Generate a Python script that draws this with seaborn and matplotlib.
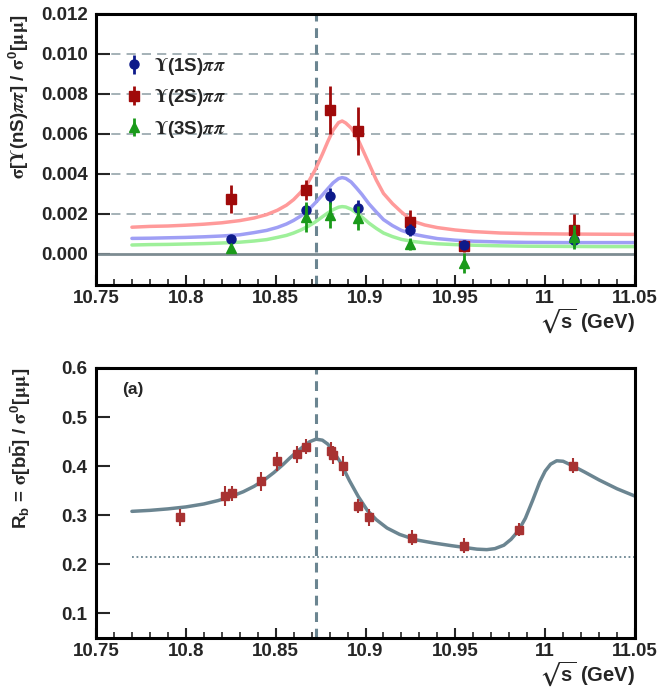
import numpy as np
import pandas as pd
import matplotlib
matplotlib.use("Agg")
import matplotlib.pyplot as plt
from matplotlib.ticker import MultipleLocator, FixedLocator
import seaborn as sns

# ---------------- data ----------------
# top panel: Upsilon(nS) pi pi cross sections
x_pts = [10.825, 10.867, 10.880, 10.896, 10.925, 10.955, 11.016]
y_1s = [0.00075, 0.00220, 0.00290, 0.00228, 0.00120, 0.00045, 0.00070]
e_1s = [0.00015, 0.00030, 0.00040, 0.00040, 0.00030, 0.00020, 0.00030]
y_2s = [0.00275, 0.00320, 0.00720, 0.00617, 0.00160, 0.00040, 0.00120]
e_2s = [0.00068, 0.00050, 0.00120, 0.00120, 0.00060, 0.00030, 0.00080]
y_3s = [0.00028, 0.00187, 0.00195, 0.00178, 0.00050, -0.00047, 0.00083]
e_3s = [0.00022, 0.00075, 0.00065, 0.00060, 0.00030, 0.00050, 0.00060]

# fit curves
x_fit = [10.770, 10.780, 10.790, 10.800, 10.810, 10.820, 10.830, 10.838, 10.845, 10.851,
         10.856, 10.860, 10.864, 10.868, 10.872, 10.876, 10.879, 10.882, 10.885, 10.887,
         10.889, 10.892, 10.895, 10.898, 10.902, 10.906, 10.910, 10.915, 10.920, 10.926,
         10.933, 10.940, 10.950, 10.960, 10.975, 10.990, 11.010, 11.030, 11.050]
fit_2s = [0.00134, 0.00138, 0.00140, 0.00144, 0.00149, 0.00156, 0.00167, 0.00180, 0.00197, 0.00219,
          0.00244, 0.00272, 0.00309, 0.00357, 0.00421, 0.00499, 0.00562, 0.00620, 0.00657, 0.00665,
          0.00655, 0.00630, 0.00590, 0.00530, 0.00450, 0.00370, 0.00303, 0.00252, 0.00210, 0.00165,
          0.00145, 0.00132, 0.00120, 0.00112, 0.00105, 0.00102, 0.00100, 0.00099, 0.00098]
fit_1s = [0.00078, 0.00079, 0.00081, 0.00083, 0.00086, 0.00090, 0.00096, 0.00107, 0.00118, 0.00133,
          0.00150, 0.00168, 0.00190, 0.00218, 0.00255, 0.00295, 0.00326, 0.00356, 0.00377, 0.00382,
          0.00378, 0.00360, 0.00330, 0.00298, 0.00250, 0.00210, 0.00172, 0.00142, 0.00118, 0.00100,
          0.00088, 0.00077, 0.00069, 0.00064, 0.00060, 0.00058, 0.00057, 0.00057, 0.00057]
fit_3s = [0.00045, 0.00047, 0.00048, 0.00050, 0.00052, 0.00055, 0.00059, 0.00065, 0.00072, 0.00083,
          0.00093, 0.00105, 0.00120, 0.00138, 0.00160, 0.00186, 0.00205, 0.00222, 0.00234, 0.00237,
          0.00235, 0.00224, 0.00205, 0.00185, 0.00154, 0.00128, 0.00105, 0.00087, 0.00073, 0.00063,
          0.00056, 0.00051, 0.00047, 0.00044, 0.00041, 0.00039, 0.00038, 0.00037, 0.00037]

# bottom panel: R_b
x_rb = [10.7968, 10.822, 10.8255, 10.842, 10.8506, 10.862, 10.867, 10.8806, 10.882,
        10.8873, 10.8956, 10.9021, 10.9257, 10.955, 10.9854, 11.0157]
y_rb = [0.2955, 0.339, 0.345, 0.369, 0.410, 0.424, 0.440, 0.431, 0.423,
        0.400, 0.319, 0.2955, 0.2545, 0.2378, 0.2708, 0.401]
e_rb = [0.017, 0.020, 0.015, 0.019, 0.019, 0.017, 0.016, 0.018, 0.018,
        0.021, 0.015, 0.017, 0.015, 0.015, 0.014, 0.015]

x_rbfit = [10.770, 10.780, 10.790, 10.800, 10.810, 10.818, 10.825, 10.832, 10.838, 10.844,
           10.849, 10.854, 10.858, 10.862, 10.866, 10.869, 10.8725, 10.876, 10.879, 10.882,
           10.886, 10.891, 10.896, 10.901, 10.906, 10.912, 10.919, 10.928, 10.938, 10.948,
           10.956, 10.962, 10.9675, 10.972, 10.977, 10.981, 10.985, 10.989, 10.993, 10.997,
           11.000, 11.003, 11.0064, 11.010, 11.0157, 11.022, 11.030, 11.040, 11.050]
y_rbfit = [0.308, 0.310, 0.313, 0.317, 0.323, 0.330, 0.338, 0.348, 0.359, 0.373,
           0.387, 0.403, 0.417, 0.430, 0.442, 0.450, 0.455, 0.453, 0.445, 0.431,
           0.408, 0.371, 0.338, 0.310, 0.291, 0.274, 0.261, 0.250, 0.2435, 0.238,
           0.234, 0.231, 0.230, 0.232, 0.239, 0.251, 0.268, 0.294, 0.330, 0.368,
           0.390, 0.404, 0.411, 0.410, 0.400, 0.388, 0.372, 0.354, 0.339]
rb_continuum = 0.215

x_ticks = [10.75, 10.8, 10.85, 10.9, 10.95, 11.0, 11.05]
x_ticklabels = ["10.75", "10.8", "10.85", "10.9", "10.95", "11", "11.05"]
y_ticks_top = [0.000, 0.002, 0.004, 0.006, 0.008, 0.010, 0.012]
y_ticklabels_top = ["0.000", "0.002", "0.004", "0.006", "0.008", "0.010", "0.012"]
y_ticks_bot = [0.1, 0.2, 0.3, 0.4, 0.5, 0.6]
y_ticklabels_bot = ["0.1", "0.2", "0.3", "0.4", "0.5", "0.6"]
peak_pos = 10.8725

# ---------------- style ----------------
sns.set_theme(style="white")
plt.rcParams.update({
    "font.family": ["Liberation Sans", "DejaVu Sans"],
    "font.weight": "bold",
    "axes.labelweight": "bold",
    "mathtext.fontset": "custom",
    "mathtext.rm": "STIXGeneral",
    "mathtext.it": "STIXGeneral:italic",
    "mathtext.bf": "Liberation Sans:bold",
    "mathtext.sf": "Liberation Sans:bold",
    "mathtext.fallback": "stix",
    "axes.linewidth": 2.2,
    "axes.edgecolor": "black",
})

W, H = 660, 689
fig = plt.figure(figsize=(W / 100, H / 100), dpi=100)
L, R = 96 / W, 635 / W
ax1 = fig.add_axes([L, 1 - 285 / H, R - L, (285 - 14) / H])
ax2 = fig.add_axes([L, 1 - 638 / H, R - L, (638 - 368) / H])

line_col = "#6b8591"

def style_axis(ax):
    ax.set_xlim(10.75, 11.05)
    ax.xaxis.set_major_locator(FixedLocator(x_ticks))
    ax.set_xticklabels(x_ticklabels)
    ax.xaxis.set_minor_locator(MultipleLocator(0.01))
    ax.tick_params(axis="x", which="major", direction="in", length=7, width=1.5,
                   labelsize=13.5, pad=3.5, bottom=True, top=False)
    ax.tick_params(axis="x", which="minor", direction="in", length=4, width=1.2,
                   bottom=True, top=False)
    ax.tick_params(axis="y", which="major", direction="in", length=10, width=1.5,
                   labelsize=13.5, pad=6, left=True, right=False)
    for lab in ax.get_xticklabels() + ax.get_yticklabels():
        lab.set_fontweight("bold")
    ax.set_xlabel(r"$\sqrt{\mathbf{s}}$ (GeV)", loc="right", fontsize=14.5,
                  fontweight="bold", labelpad=0)
    ax.axvline(peak_pos, color=line_col, lw=2.2, ls=(0, (3.2, 2.2)), zorder=1)

# ---------------- top panel ----------------
ax1.set_ylim(-0.00155, 0.012)
ax1.yaxis.set_major_locator(FixedLocator(y_ticks_top))
ax1.set_yticklabels(y_ticklabels_top)
for yv in y_ticks_top[1:-1]:
    ax1.axhline(yv, color="#8b9ca3", lw=1.1, ls=(0, (6, 4)), zorder=0)
ax1.axhline(0.0, color="#7d8c92", lw=2.0, zorder=1)
style_axis(ax1)

curves = pd.DataFrame({"x": x_fit, "2S": fit_2s, "1S": fit_1s, "3S": fit_3s})
sns.lineplot(data=curves, x="x", y="2S", ax=ax1, color="#ff9a9a", lw=2.5,
             estimator=None, sort=False, zorder=2)
sns.lineplot(data=curves, x="x", y="1S", ax=ax1, color="#9f9ff5", lw=2.5,
             estimator=None, sort=False, zorder=2)
sns.lineplot(data=curves, x="x", y="3S", ax=ax1, color="#9ef09a", lw=2.5,
             estimator=None, sort=False, zorder=2)

h1 = ax1.errorbar(x_pts, y_1s, yerr=e_1s, fmt="o", color="#0d1a8a", ms=6.5,
                  elinewidth=2.0, capsize=0, zorder=5,
                  label=r"$\mathrm{\Upsilon}$(1S)$\pi\pi$")
h2 = ax1.errorbar(x_pts, y_2s, yerr=e_2s, fmt="s", color="#a00a0a", ms=6.5,
                  elinewidth=2.0, capsize=0, zorder=4,
                  label=r"$\mathrm{\Upsilon}$(2S)$\pi\pi$")
h3 = ax1.errorbar(x_pts, y_3s, yerr=e_3s, fmt="^", color="#1a9a1a", ms=6.5,
                  elinewidth=2.0, capsize=0, zorder=6,
                  label=r"$\mathrm{\Upsilon}$(3S)$\pi\pi$")
ax1.legend(handles=[h1, h2, h3], loc="upper left", bbox_to_anchor=(0.035, 0.88),
           frameon=False, fontsize=13.5, handlelength=1.0, handletextpad=0.6,
           labelspacing=0.55, borderpad=0)
ax1.set_ylabel(r"$\mathrm{\sigma}$[$\mathrm{\Upsilon}$(nS)$\pi\pi$] / "
               r"$\mathrm{\sigma}^{\mathbf{0}}$[$\mathrm{\mu\mu}$]",
               loc="top", fontsize=13.5, fontweight="bold")
ax1.yaxis.set_label_coords(-0.12, 1.0)

# ---------------- bottom panel ----------------
ax2.set_ylim(0.05, 0.6)
ax2.yaxis.set_major_locator(FixedLocator(y_ticks_bot))
ax2.set_yticklabels(y_ticklabels_bot)
style_axis(ax2)
ax2.hlines(rb_continuum, 10.77, 11.05, color=line_col, lw=1.3,
           linestyles=(0, (1, 1.5)), zorder=1)
rb_fit = pd.DataFrame({"x": x_rbfit, "y": y_rbfit})
sns.lineplot(data=rb_fit, x="x", y="y", ax=ax2, color="#6b8591", lw=2.5,
             estimator=None, sort=False, zorder=2)
ax2.errorbar(x_rb, y_rb, yerr=e_rb, fmt="s", color="#a83232", ms=5.5,
             elinewidth=1.5, capsize=0, zorder=4)
ax2.text(0.048, 0.92, "(a)", transform=ax2.transAxes, fontsize=12.5,
         fontweight="bold", va="center", ha="left")
ax2.set_ylabel(r"R$_{\mathbf{b}}$ = $\mathrm{\sigma}$[b$\bar{\mathbf{b}}$] / "
               r"$\mathrm{\sigma}^{\mathbf{0}}$[$\mathrm{\mu\mu}$]",
               loc="top", fontsize=13.5, fontweight="bold")
ax2.yaxis.set_label_coords(-0.117, 1.0)

for ax in (ax1, ax2):
    for s in ax.spines.values():
        s.set_linewidth(2.2)
        s.set_color("black")

fig.savefig("out.png", dpi=100)
